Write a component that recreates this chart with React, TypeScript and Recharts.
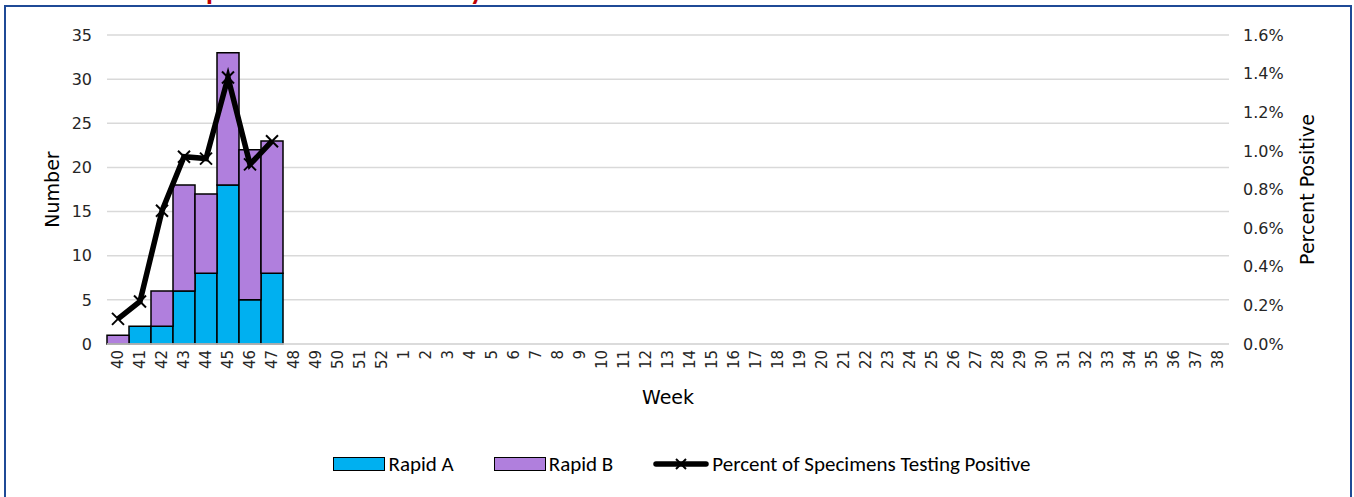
import React from "react";
import {
  ComposedChart,
  Bar,
  Line,
  XAxis,
  YAxis,
  CartesianGrid,
  Legend,
} from "recharts";

const weeks = [
  "40", "41", "42", "43", "44", "45", "46", "47", "48", "49", "50", "51", "52",
  "1", "2", "3", "4", "5", "6", "7", "8", "9", "10", "11", "12", "13", "14",
  "15", "16", "17", "18", "19", "20", "21", "22", "23", "24", "25", "26", "27",
  "28", "29", "30", "31", "32", "33", "34", "35", "36", "37", "38",
];
const rapidA = [0, 2, 2, 6, 8, 18, 5, 8];
const rapidB = [1, 0, 4, 12, 9, 15, 17, 15];
const percentPositive = [0.13, 0.22, 0.69, 0.97, 0.96, 1.38, 0.93, 1.05];
const numberTicks = [0, 5, 10, 15, 20, 25, 30, 35];
const percentTicks = [0, 0.2, 0.4, 0.6, 0.8, 1.0, 1.2, 1.4, 1.6];
const legendOrder = ["rapidA", "rapidB", "percent"];

const data = weeks.map((week, i) => ({
  week,
  rapidA: i < rapidA.length ? rapidA[i] : null,
  rapidB: i < rapidB.length ? rapidB[i] : null,
  percent: i < percentPositive.length ? percentPositive[i] : null,
}));

const tickFont = "'DejaVu Sans', Verdana, sans-serif";
const legendFont = "Carlito, Calibri, Lato, sans-serif";

const WeekTick = ({ x, y, payload }: any) => (
  <text
    x={x}
    y={y}
    transform={`rotate(-90, ${x}, ${y})`}
    textAnchor="end"
    dominantBaseline="central"
    fontFamily={tickFont}
    fontSize={15}
    fill="#262626"
  >
    {payload.value}
  </text>
);

const CrossDot = ({ cx, cy }: any) => {
  if (cx == null || cy == null) return null;
  const s = 6;
  return (
    <g stroke="#000" strokeWidth={2}>
      <line x1={cx - s} y1={cy - s} x2={cx + s} y2={cy + s} />
      <line x1={cx - s} y1={cy + s} x2={cx + s} y2={cy - s} />
    </g>
  );
};

const AxisTitle = ({ viewBox, value, cx }: any) => {
  const cy = viewBox.y + viewBox.height / 2;
  return (
    <text
      x={cx}
      y={cy}
      transform={`rotate(-90, ${cx}, ${cy})`}
      textAnchor="middle"
      dominantBaseline="central"
      fontFamily={tickFont}
      fontSize={19}
      fill="#000"
    >
      {value}
    </text>
  );
};

const LegendContent = ({ payload }: any) => {
  const items = [...(payload || [])].sort(
    (a: any, b: any) => legendOrder.indexOf(a.dataKey) - legendOrder.indexOf(b.dataKey)
  );
  return (
    <div
      style={{
        display: "flex",
        justifyContent: "center",
        alignItems: "center",
        height: 20,
        paddingLeft: 10,
        fontFamily: legendFont,
        fontSize: 21,
        color: "#000",
      }}
    >
      {items.map((entry: any, i: number) => (
        <div
          key={entry.value}
          style={{ display: "flex", alignItems: "center", marginLeft: i ? 40 : 0 }}
        >
          {entry.dataKey === "percent" ? (
            <svg width={56} height={14}>
              <line x1={3} y1={7} x2={53} y2={7} stroke="#000" strokeWidth={5.5} strokeLinecap="round" />
              <line x1={23} y1={2} x2={33} y2={12} stroke="#000" strokeWidth={2} />
              <line x1={23} y1={12} x2={33} y2={2} stroke="#000" strokeWidth={2} />
            </svg>
          ) : (
            <div
              style={{
                width: 50,
                height: 12,
                background: entry.color,
                border: "1.5px solid #000",
              }}
            />
          )}
          <span style={{ marginLeft: 3 }}>{entry.value}</span>
        </div>
      ))}
    </div>
  );
};

export default function App() {
  return (
    <div
      style={{
        position: "absolute",
        left: 0,
        top: 0,
        width: 1354,
        height: 497,
        background: "#fff",
        overflow: "hidden",
      }}
    >
      <svg
        width={1354}
        height={10}
        style={{ position: "absolute", left: 0, top: 0 }}
      >
        <text x={206} y={-0.5} fill="#C00000" fontWeight="bold" fontSize={28} fontFamily={legendFont}>
          p
        </text>
        <text x={470} y={-0.5} fill="#C00000" fontWeight="bold" fontSize={28} fontFamily={legendFont}>
          y
        </text>
      </svg>
      <div
        style={{
          position: "absolute",
          left: 4,
          top: 5,
          width: 1344,
          height: 500,
          border: "2px solid #1F4A96",
        }}
      />
      <div style={{ position: "absolute", left: 0, top: 0 }}>
        <ComposedChart
          width={1354}
          height={497}
          data={data}
          margin={{ top: 35, right: 0, bottom: 23, left: 0 }}
          barCategoryGap={0}
        >
          <CartesianGrid
            yAxisId="left"
            vertical={false}
            stroke="#d9d9d9"
            strokeWidth={1.5}
          />
          <XAxis
            dataKey="week"
            interval={0}
            tickLine={false}
            axisLine={{ stroke: "#d9d9d9", strokeWidth: 1.5 }}
            tickSize={0}
            tickMargin={6}
            tick={<WeekTick />}
            height={110}
            label={({ viewBox }: any) => (
              <text
                x={viewBox.x + viewBox.width / 2}
                y={viewBox.y + 53}
                textAnchor="middle"
                dominantBaseline="central"
                fontFamily={tickFont}
                fontSize={19}
                fill="#000"
              >
                Week
              </text>
            )}
          />
          <YAxis
            yAxisId="left"
            width={107}
            domain={[0, 35]}
            ticks={numberTicks}
            tickLine={false}
            axisLine={false}
            tickSize={0}
            tickMargin={15}
            tick={{ fontFamily: tickFont, fontSize: 16, fill: "#262626" }}
            label={(props: any) => <AxisTitle {...props} value="Number" cx={52} />}
          />
          <YAxis
            yAxisId="right"
            orientation="right"
            width={125}
            domain={[0, 1.6]}
            ticks={percentTicks}
            tickFormatter={(v: number) => `${v.toFixed(1)}%`}
            tickLine={false}
            axisLine={false}
            tickSize={0}
            tickMargin={14}
            tick={{ fontFamily: tickFont, fontSize: 16, fill: "#262626" }}
            label={(props: any) => (
              <AxisTitle {...props} value="Percent Positive" cx={1307} />
            )}
          />
          <Bar
            yAxisId="left"
            dataKey="rapidA"
            name="Rapid A"
            stackId="a"
            fill="#00B0F0"
            stroke="#000"
            strokeWidth={1.5}
            isAnimationActive={false}
          />
          <Bar
            yAxisId="left"
            dataKey="rapidB"
            name="Rapid B"
            stackId="a"
            fill="#B07FDD"
            stroke="#000"
            strokeWidth={1.5}
            isAnimationActive={false}
          />
          <Line
            yAxisId="right"
            dataKey="percent"
            name="Percent of Specimens Testing Positive"
            type="linear"
            stroke="#000"
            strokeWidth={5.5}
            dot={<CrossDot />}
            activeDot={false}
            isAnimationActive={false}
          />
          <Legend verticalAlign="bottom" content={<LegendContent />} />
        </ComposedChart>
      </div>
    </div>
  );
}
